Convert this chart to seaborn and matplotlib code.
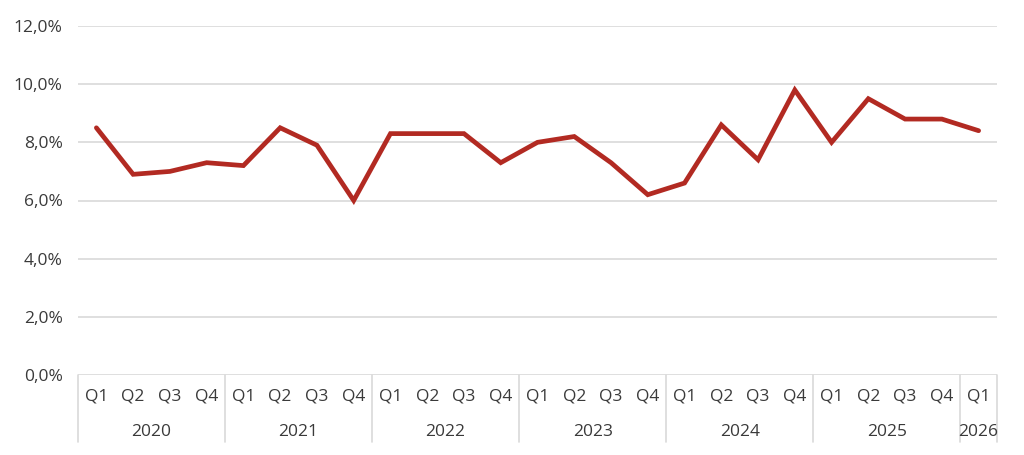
import numpy as np
import pandas as pd
import matplotlib
matplotlib.use("Agg")
import matplotlib.pyplot as plt
import matplotlib.transforms as mtransforms
from matplotlib.ticker import FuncFormatter
import seaborn as sns

# ~~~~~~~~~~~~~ data ~~~~~~~~~~~~~
years = [2020, 2021, 2022, 2023, 2024, 2025, 2026]
quarters_per_year = [4, 4, 4, 4, 4, 4, 1]
quarter_labels = ["Q1", "Q2", "Q3", "Q4"]
rate = [8.5, 6.9, 7.0, 7.3,
        7.2, 8.5, 7.9, 6.0,
        8.3, 8.3, 8.3, 7.3,
        8.0, 8.2, 7.3, 6.2,
        6.6, 8.6, 7.4, 9.8,
        8.0, 9.5, 8.8, 8.8,
        8.4]

line_color = "#B22A22"
text_color = "#3A3A3A"
grid_color = "#D9D9D9"

sns.set_theme(style="white")
plt.rcParams['font.family'] = ['Open Sans', 'DejaVu Sans']

quarter_names = [quarter_labels[q] for n in quarters_per_year for q in range(n)]
df = pd.DataFrame({'idx': np.arange(len(rate)), 'quarter': quarter_names, 'rate': rate})

fig = plt.figure(figsize=(10.24, 4.55), dpi=100)
ax = fig.add_axes([78 / 1024, 80 / 455, 919 / 1024, 349 / 455])

sns.lineplot(data=df, x='idx', y='rate', ax=ax, color=line_color, linewidth=3.4,
             solid_joinstyle='miter', solid_capstyle='round')

ax.set_ylim(0, 12)
ax.set_xlim(-0.5, len(rate) - 0.5)
ax.set_yticks(np.arange(0, 12.1, 2))
ax.yaxis.set_major_formatter(FuncFormatter(lambda v, p: "{:.1f}%".format(v).replace(".", ",")))
ax.yaxis.grid(True, color=grid_color, linewidth=1.2)
ax.set_axisbelow(True)
for s in ax.spines.values():
    s.set_visible(False)
ax.tick_params(axis='y', length=0, pad=11, labelsize=12.5, labelcolor=text_color)
ax.set_xticks([])
ax.set_xlabel("")
ax.set_ylabel("")

# ~~~~~~~~~~~~~ two-level category axis ~~~~~~~~~~~~~
trans = mtransforms.blended_transform_factory(ax.transData, ax.transAxes)
depth = -0.192
for i, q in enumerate(quarter_names):
    ax.text(i, -0.062, q, transform=trans, ha='center', va='center',
            fontsize=12.5, color=text_color)

start = 0
boundaries = [-0.5]
for yr, n in zip(years, quarters_per_year):
    center = start + (n - 1) / 2
    ax.text(center, -0.162, str(yr), transform=trans, ha='center', va='center',
            fontsize=12.5, color=text_color)
    start += n
    boundaries.append(start - 0.5)

for b in boundaries:
    ax.plot([b, b], [0, depth], transform=trans, color=grid_color, linewidth=1.2, clip_on=False)

fig.savefig("out.png", dpi=100, facecolor="white")
